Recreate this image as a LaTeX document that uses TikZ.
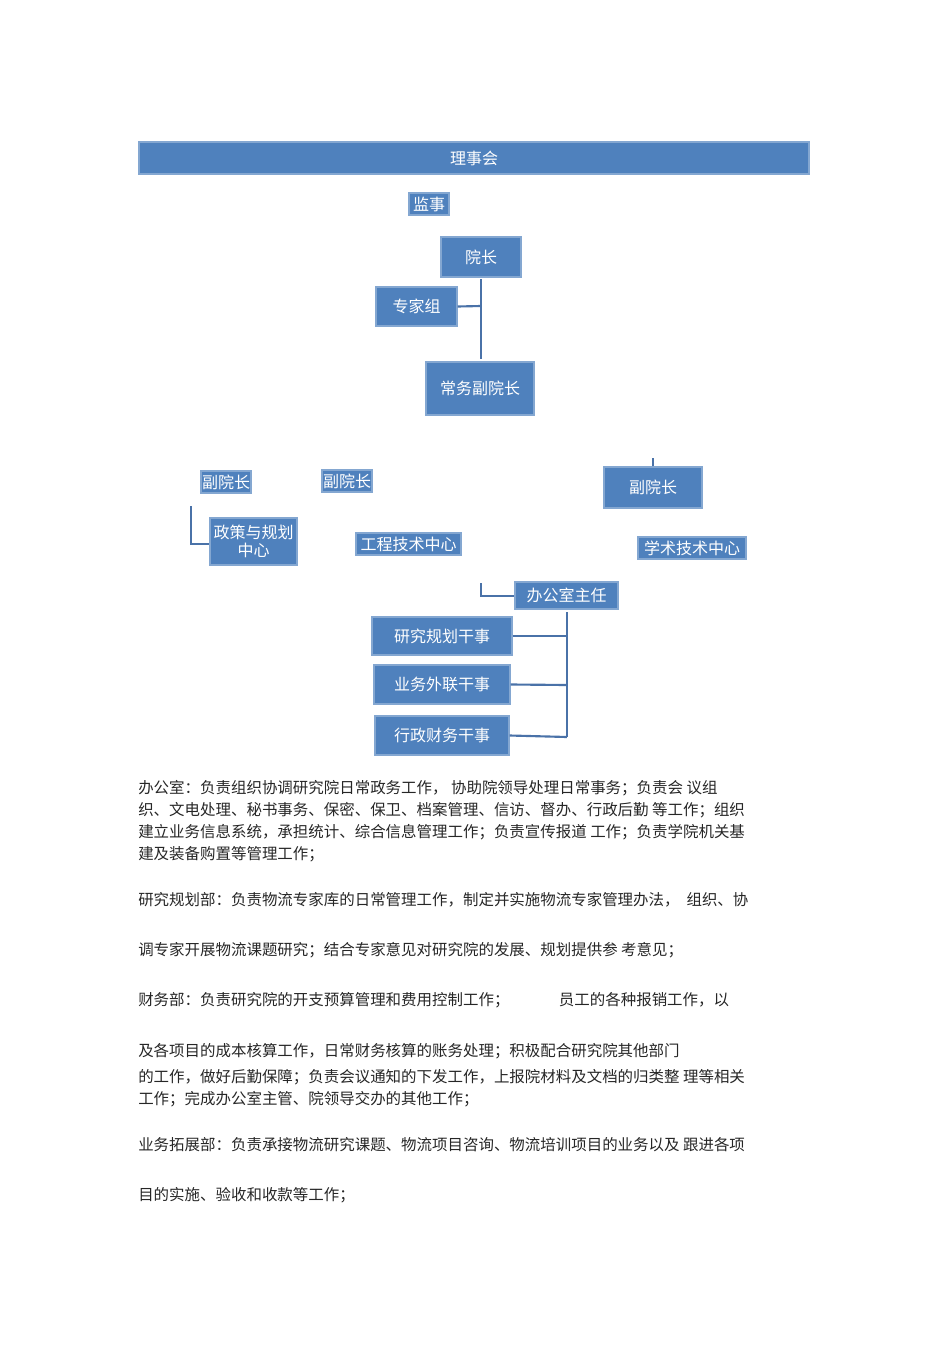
\documentclass[tikz,border=0pt]{standalone}
\usepackage{fontspec}
\newfontfamily\cjk{Noto Sans CJK SC}
\begin{document}
\begin{tikzpicture}[x=0.75pt,y=-0.75pt,
  bx/.style={fill=boxblue,draw=boxblue!70!white,line width=0.8pt,text=white,font=\cjk\fontsize{12}{14}\selectfont,inner sep=0pt,align=center},
  ln/.style={draw=lineblue,line width=1.6pt},
  body/.style={anchor=west,font=\cjk\fontsize{11.6}{16.5}\selectfont,inner sep=0pt,text=black!85}]
\definecolor{boxblue}{HTML}{4F81BD}
\definecolor{lineblue}{HTML}{4A72A8}
\useasboundingbox (0,0) rectangle (950,1345);
\newcommand{\bxat}[5]{\node[bx,minimum width={(#3-#1)*0.75pt},minimum height={(#4-#2)*0.75pt}] (#5) at ({(#1+#3)/2},{(#2+#4)/2})}
\bxat{139}{142}{809}{174}{lsh}{理事会};
\bxat{409}{193}{449}{215}{js}{监事};
\bxat{441}{237}{521}{277}{yz}{院长};
\bxat{376}{287}{457}{326}{zjz}{专家组};
\bxat{426}{362}{534}{415}{cw}{常务副院长};
\bxat{201}{471}{251}{493}{f1}{副院长};
\bxat{322}{470}{372}{492}{f2}{副院长};
\bxat{604}{467}{702}{508}{f3}{副院长};
\bxat{210}{518}{297}{565}{zc}{政策与规划\\中心};
\bxat{356}{533}{461}{555}{gc}{工程技术中心};
\bxat{638}{537}{746}{559}{xs}{学术技术中心};
\bxat{515}{582}{618}{609}{bg}{办公室主任};
\bxat{372}{617}{512}{655}{g1}{研究规划干事};
\bxat{374}{665}{510}{704}{g2}{业务外联干事};
\bxat{375}{716}{509}{755}{g3}{行政财务干事};
\draw[ln] (481,279) -- (481,359);
\draw[ln] (zjz.east) -- (481,306);
\draw[ln] (f3.north) -- ++(0,-8);
\draw[ln] (191,506) -- (191,544) -- (zc.west|-191,544);
\draw[ln] (481,583) -- (481,596) -- (bg.west|-481,596);
\draw[ln] (567,612) -- (567,737);
\draw[ln] (g1.east) -- (567,636);
\draw[ln] (g2.east) -- (567,685);
\draw[ln] (g3.east) -- (567,737);
\node[body] (t1) at (138,788) {办公室：负责组织协调研究院日常政务工作，\ 协助院领导处理日常事务；负责会\ 议组};
\node[body] (t2) at (138,810) {织、文电处理、秘书事务、保密、保卫、档案管理、信访、督办、行政后勤\ 等工作；组织};
\node[body] (t3) at (138,832) {建立业务信息系统，承担统计、综合信息管理工作；负责宣传报道\ 工作；负责学院机关基};
\node[body] (t4) at (138,854) {建及装备购置等管理工作；};
\node[body] (t5) at (138,900) {研究规划部：负责物流专家库的日常管理工作，制定并实施物流专家管理办法，\ \ 组织、协};
\node[body] (t6) at (138,950) {调专家开展物流课题研究；结合专家意见对研究院的发展、规划提供参\ 考意见；};
\node[body] (t7) at (138,1000) {财务部：负责研究院的开支预算管理和费用控制工作；\hspace{3.2em}员工的各种报销工作，以};
\node[body] (t8) at (138,1051) {及各项目的成本核算工作，日常财务核算的账务处理；积极配合研究院其他部门};
\node[body] (t9) at (138,1077) {的工作，做好后勤保障；负责会议通知的下发工作，上报院材料及文档的归类整\ 理等相关};
\node[body] (t10) at (138,1099) {工作；完成办公室主管、院领导交办的其他工作；};
\node[body] (t11) at (138,1145) {业务拓展部：负责承接物流研究课题、物流项目咨询、物流培训项目的业务以及\ 跟进各项};
\node[body] (t12) at (138,1195) {目的实施、验收和收款等工作；};
\end{tikzpicture}
\end{document}
